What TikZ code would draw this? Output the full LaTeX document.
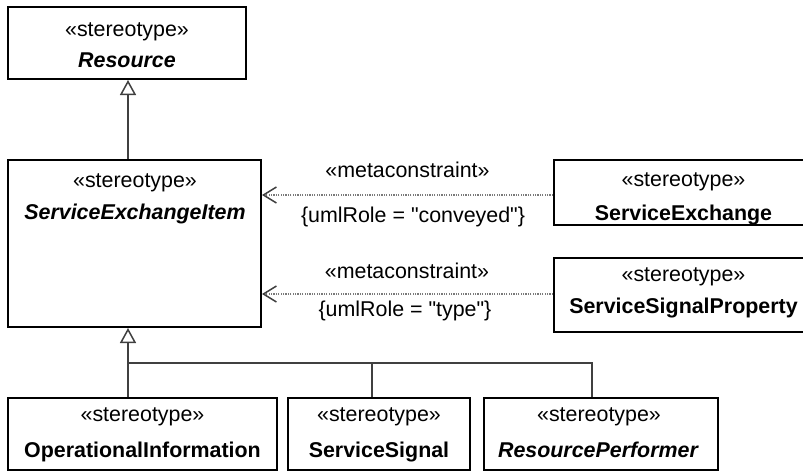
\documentclass[tikz,border=0pt]{standalone}
\usepackage{fontspec}
\setmainfont{Liberation Sans}[Ligatures=TeXOff]
\usetikzlibrary{arrows.meta}
\definecolor{conncol}{HTML}{404040}
\definecolor{dotcol}{HTML}{7A7A7A}
\begin{document}
\begin{tikzpicture}[x=0.5pt,y=-0.5pt,
  box/.style={draw=black, line width=1pt, rectangle, inner sep=0pt, fill=white},
  txt/.style={anchor=base, inner sep=0pt, font=\fontsize{10.7}{12}\selectfont},
  nm/.style={txt, font=\fontsize{10.7}{12}\selectfont\bfseries},
  nmi/.style={txt, font=\fontsize{10.7}{12}\selectfont\bfseries\itshape},
  gen/.style={draw=conncol, line width=0.75pt, -{Triangle[open, length=7.5pt, width=8pt]}},
  conn/.style={draw=conncol, line width=0.75pt},
  dep/.style={draw=dotcol, line width=0.65pt, dash pattern=on 0.6pt off 0.6pt,
    -{Straight Barb[length=6.5pt, width=8pt, line width=0.75pt, color=conncol]}}
]
\useasboundingbox (0,0) rectangle (803,472);
\clip (0,0) rectangle (803,472);

% boxes
\node[box, minimum width=119pt, minimum height=36pt] (res) at (127,43) {};
\node[box, minimum width=126.5pt, minimum height=83.5pt] (sei) at (134.5,243.5) {};
\node[box, minimum width=129.5pt, minimum height=32.5pt] (se) at (683.5,192.5) {};
\node[box, minimum width=129.5pt, minimum height=37pt] (ssp) at (683.5,295) {};
\node[box, minimum width=134.5pt, minimum height=36pt] (oi) at (142.5,434) {};
\node[box, minimum width=91pt, minimum height=36pt] (ss) at (379,434) {};
\node[box, minimum width=117pt, minimum height=36pt] (rp) at (601,434) {};

% box texts
\node[txt] (res-s) at (127,36) {«stereotype»};
\node[nmi] (res-n) at (127,67.5) {Resource};
\node[txt] (sei-s) at (135,187) {«stereotype»};
\node[nmi] (sei-n) at (135,219.5) {ServiceExchangeItem};
\node[txt] (se-s) at (683.5,186.5) {«stereotype»};
\node[nm] (se-n) at (683.5,220) {ServiceExchange};
\node[txt] (ssp-s) at (683.5,281) {«stereotype»};
\node[nm] (ssp-n) at (683.5,313) {ServiceSignalProperty};
\node[txt] (oi-s) at (142.5,421.5) {«stereotype»};
\node[nm] (oi-n) at (142.5,457.5) {OperationalInformation};
\node[txt] (ss-s) at (379,421.5) {«stereotype»};
\node[nm] (ss-n) at (379,457.5) {ServiceSignal};
\node[txt] (rp-s) at (599,421.5) {«stereotype»};
\node[nmi] (rp-n) at (598,457.5) {ResourcePerformer};

% generalizations
\coordinate (gx) at (128,0);
\coordinate (bus) at (128,363);
\coordinate (ssx) at (372,0);
\coordinate (rpx) at (592,0);
\draw[gen] (sei.north -| gx) -- (res.south -| gx);
\draw[gen] (oi.north -| gx) -- (sei.south -| gx);
\draw[conn] (ss.north -| ssx) |- (bus);
\draw[conn] (rp.north -| rpx) |- (bus);

% metaconstraints
\coordinate (d1) at (0,195);
\coordinate (d2) at (0,294);
\draw[dep] (se.west |- d1) -- (sei.east |- d1);
\draw[dep] (ssp.west |- d2) -- (sei.east |- d2);
\node[txt] (m1) at (407.5,177) {«metaconstraint»};
\node[txt] (r1) at (413,222) {\{umlRole = "conveyed"\}};
\node[txt] (m2) at (407,278) {«metaconstraint»};
\node[txt] (r2) at (405,316.5) {\{umlRole = "type"\}};
\end{tikzpicture}
\end{document}
